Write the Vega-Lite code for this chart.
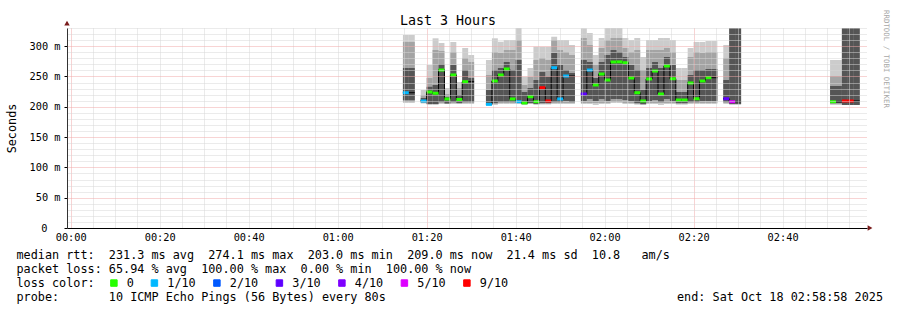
{
  "$schema": "https://vega.github.io/schema/vega-lite/v6.json",
  "width": 800,
  "height": 200,
  "autosize": {"type": "none"},
  "padding": {"left": 67, "top": 28, "right": 30, "bottom": 82},
  "background": "white",
  "config": {"view": {"stroke": null}, "font": "DejaVu Sans Mono"},
  "title": {"text": "Last 3 Hours", "font": "DejaVu Sans Mono", "fontSize": 13.3, "fontWeight": "normal", "color": "black", "anchor": "middle", "frame": "group", "dx": -19, "offset": -17},
  "data": {"name": "cols"},
  "datasets": {
    "cols": [
      {"t": 74.67, "t2": 76.0, "hi": 318.5, "mhi": 307, "dhi": 264, "dlo": 211, "mlo": 207.9, "lo": 206.3, "med": 223.2, "loss": "1/10", "g": "a"},
      {"t": 76.0, "t2": 77.33, "hi": 318.5, "mhi": 307, "dhi": 264, "dlo": 211, "mlo": 207.9, "lo": 206.3, "med": 223.2, "loss": "none", "g": "a"},
      {"t": 78.67, "t2": 80.0, "hi": 227.7, "mhi": 219.5, "dhi": 214.5, "dlo": 207.9, "mlo": 206.3, "lo": 205.4, "med": 209.6, "loss": "1/10", "g": "b"},
      {"t": 80.0, "t2": 81.33, "hi": 269, "mhi": 247.5, "dhi": 233, "dlo": 204.6, "mlo": 204.6, "lo": 203, "med": 224.4, "loss": "0", "g": "b"},
      {"t": 81.33, "t2": 82.67, "hi": 313, "mhi": 293.7, "dhi": 236, "dlo": 204.6, "mlo": 204.6, "lo": 203, "med": 222.3, "loss": "0", "g": "b"},
      {"t": 82.67, "t2": 84.0, "hi": 305.3, "mhi": 292, "dhi": 270, "dlo": 207.9, "mlo": 206.3, "lo": 204.6, "med": 260.7, "loss": "0", "g": "b"},
      {"t": 84.0, "t2": 85.33, "hi": 231, "mhi": 221, "dhi": 216, "dlo": 205.4, "mlo": 205.4, "lo": 204.6, "med": 212.9, "loss": "0", "g": "b"},
      {"t": 85.33, "t2": 86.67, "hi": 306.9, "mhi": 290.4, "dhi": 269, "dlo": 207.9, "mlo": 206.3, "lo": 204.6, "med": 252.5, "loss": "0", "g": "b"},
      {"t": 86.67, "t2": 88.0, "hi": 240.9, "mhi": 231, "dhi": 219.5, "dlo": 206.3, "mlo": 205.4, "lo": 204.6, "med": 212, "loss": "0", "g": "b"},
      {"t": 88.0, "t2": 89.33, "hi": 297, "mhi": 280.5, "dhi": 260.7, "dlo": 207.9, "mlo": 206.3, "lo": 204.6, "med": 241.4, "loss": "0", "g": "b"},
      {"t": 89.33, "t2": 90.67, "hi": 285.5, "mhi": 273.9, "dhi": 247.5, "dlo": 207.9, "mlo": 206.3, "lo": 204.6, "med": 241.4, "loss": "none", "g": "b"},
      {"t": 93.33, "t2": 94.67, "hi": 277.2, "mhi": 252.5, "dhi": 227.7, "dlo": 204.6, "mlo": 204.6, "lo": 203, "med": 204, "loss": "1/10", "g": "c"},
      {"t": 94.67, "t2": 96.0, "hi": 313, "mhi": 290.4, "dhi": 260.7, "dlo": 206.3, "mlo": 204.6, "lo": 203, "med": 242.6, "loss": "0", "g": "c"},
      {"t": 96.0, "t2": 97.33, "hi": 307.4, "mhi": 288.8, "dhi": 264, "dlo": 207.9, "mlo": 206.3, "lo": 204.6, "med": 252.5, "loss": "0", "g": "c"},
      {"t": 97.33, "t2": 98.67, "hi": 310.2, "mhi": 293.7, "dhi": 273.9, "dlo": 207.9, "mlo": 206.3, "lo": 204.6, "med": 262.4, "loss": "0", "g": "c"},
      {"t": 98.67, "t2": 100.0, "hi": 310.2, "mhi": 293.7, "dhi": 260.7, "dlo": 207.9, "mlo": 206.3, "lo": 204.6, "med": 212.9, "loss": "0", "g": "c"},
      {"t": 100.0, "t2": 101.33, "hi": 330, "mhi": 310.2, "dhi": 277.2, "dlo": 209.6, "mlo": 206.3, "lo": 204.6, "med": 208.4, "loss": "1/10", "g": "c"},
      {"t": 101.33, "t2": 102.67, "hi": 249.6, "mhi": 236, "dhi": 224.4, "dlo": 204.6, "mlo": 204.6, "lo": 203, "med": 206.3, "loss": "0", "g": "c"},
      {"t": 102.67, "t2": 104.0, "hi": 264, "mhi": 249.2, "dhi": 231, "dlo": 206.3, "mlo": 205.4, "lo": 204.6, "med": 216.6, "loss": "0", "g": "c"},
      {"t": 104.0, "t2": 105.33, "hi": 299.1, "mhi": 277.2, "dhi": 244.2, "dlo": 204.6, "mlo": 204.6, "lo": 203, "med": 208.4, "loss": "0", "g": "c"},
      {"t": 105.33, "t2": 106.67, "hi": 299.1, "mhi": 280.5, "dhi": 257.4, "dlo": 206.3, "mlo": 204.6, "lo": 203.8, "med": 231.5, "loss": "9/10", "g": "c"},
      {"t": 106.67, "t2": 108.0, "hi": 299.1, "mhi": 277.2, "dhi": 249.6, "dlo": 206.3, "mlo": 204.6, "lo": 203.8, "med": 209.6, "loss": "9/10", "g": "c"},
      {"t": 108.0, "t2": 109.33, "hi": 315.6, "mhi": 310.2, "dhi": 288.8, "dlo": 207.9, "mlo": 206.3, "lo": 204.6, "med": 264.5, "loss": "1/10", "g": "c"},
      {"t": 109.33, "t2": 110.67, "hi": 310.2, "mhi": 293.7, "dhi": 269, "dlo": 207.9, "mlo": 206.3, "lo": 204.6, "med": 212.9, "loss": "1/10", "g": "c"},
      {"t": 110.67, "t2": 112.0, "hi": 310.2, "mhi": 290.4, "dhi": 260.7, "dlo": 209.6, "mlo": 206.3, "lo": 204.6, "med": 250.8, "loss": "1/10", "g": "c"},
      {"t": 112.0, "t2": 113.33, "hi": 302, "mhi": 285.5, "dhi": 255.8, "dlo": 207.9, "mlo": 206.3, "lo": 204.6, "med": 250.8, "loss": "none", "g": "c"},
      {"t": 114.67, "t2": 116.0, "hi": 329.5, "mhi": 313.5, "dhi": 277.2, "dlo": 209.6, "mlo": 206.3, "lo": 204.6, "med": 221.1, "loss": "3/10", "g": "d"},
      {"t": 116.0, "t2": 117.33, "hi": 321.8, "mhi": 302, "dhi": 273.9, "dlo": 212.9, "mlo": 206.3, "lo": 204.6, "med": 260.7, "loss": "1/10", "g": "d"},
      {"t": 117.33, "t2": 118.67, "hi": 285.5, "mhi": 269, "dhi": 247.5, "dlo": 209.6, "mlo": 206.3, "lo": 203, "med": 236, "loss": "0", "g": "d"},
      {"t": 118.67, "t2": 120.0, "hi": 313.5, "mhi": 297, "dhi": 273.9, "dlo": 212.9, "mlo": 206.3, "lo": 204.6, "med": 254.1, "loss": "0", "g": "d"},
      {"t": 120.0, "t2": 121.33, "hi": 330, "mhi": 310.2, "dhi": 285.5, "dlo": 209.6, "mlo": 206.3, "lo": 204.6, "med": 244.2, "loss": "0", "g": "d"},
      {"t": 121.33, "t2": 122.67, "hi": 330, "mhi": 313.5, "dhi": 293.7, "dlo": 212.9, "mlo": 207.9, "lo": 206.3, "med": 273.9, "loss": "0", "g": "d"},
      {"t": 122.67, "t2": 124.0, "hi": 330, "mhi": 313.5, "dhi": 290.4, "dlo": 212.9, "mlo": 207.9, "lo": 206.3, "med": 274.1, "loss": "0", "g": "d"},
      {"t": 124.0, "t2": 125.33, "hi": 313.5, "mhi": 297, "dhi": 282.2, "dlo": 211.2, "mlo": 206.3, "lo": 204.6, "med": 272.7, "loss": "0", "g": "d"},
      {"t": 125.33, "t2": 126.67, "hi": 310.2, "mhi": 290.4, "dhi": 269, "dlo": 209.6, "mlo": 206.3, "lo": 204.6, "med": 247.5, "loss": "0", "g": "d"},
      {"t": 126.67, "t2": 128.0, "hi": 313.5, "mhi": 293.7, "dhi": 260.7, "dlo": 206.3, "mlo": 204.6, "lo": 203.5, "med": 223.2, "loss": "0", "g": "d"},
      {"t": 128.0, "t2": 129.33, "hi": 282.2, "mhi": 260.7, "dhi": 227.7, "dlo": 204.6, "mlo": 203.5, "lo": 203, "med": 209.6, "loss": "0", "g": "d"},
      {"t": 129.33, "t2": 130.67, "hi": 310.2, "mhi": 293.7, "dhi": 264, "dlo": 209.6, "mlo": 206.3, "lo": 204.6, "med": 245.9, "loss": "0", "g": "d"},
      {"t": 130.67, "t2": 132.0, "hi": 310.2, "mhi": 293.7, "dhi": 273.9, "dlo": 211.2, "mlo": 206.3, "lo": 204.6, "med": 259, "loss": "0", "g": "d"},
      {"t": 132.0, "t2": 133.33, "hi": 313.5, "mhi": 293.7, "dhi": 264, "dlo": 207.9, "mlo": 206.3, "lo": 203, "med": 221.1, "loss": "0", "g": "d"},
      {"t": 133.33, "t2": 134.67, "hi": 313.5, "mhi": 297, "dhi": 282.2, "dlo": 212.9, "mlo": 206.3, "lo": 204.6, "med": 267.3, "loss": "0", "g": "d"},
      {"t": 134.67, "t2": 136.0, "hi": 310.2, "mhi": 290.4, "dhi": 269, "dlo": 209.6, "mlo": 206.3, "lo": 204.6, "med": 246.3, "loss": "0", "g": "d"},
      {"t": 136.0, "t2": 137.33, "hi": 264, "mhi": 244.2, "dhi": 224.4, "dlo": 206.3, "mlo": 204.6, "lo": 203.5, "med": 211.2, "loss": "0", "g": "d"},
      {"t": 137.33, "t2": 138.67, "hi": 264, "mhi": 244.2, "dhi": 224.4, "dlo": 206.3, "mlo": 204.6, "lo": 203.5, "med": 211.2, "loss": "0", "g": "d"},
      {"t": 138.67, "t2": 140.0, "hi": 297, "mhi": 282.2, "dhi": 252.5, "dlo": 207.9, "mlo": 206.3, "lo": 204.6, "med": 239.3, "loss": "0", "g": "d"},
      {"t": 140.0, "t2": 141.33, "hi": 307, "mhi": 290.4, "dhi": 260.7, "dlo": 207.9, "mlo": 206.3, "lo": 204.6, "med": 213.3, "loss": "0", "g": "d"},
      {"t": 141.33, "t2": 142.67, "hi": 307, "mhi": 288.8, "dhi": 260.7, "dlo": 209.6, "mlo": 206.3, "lo": 204.6, "med": 242.6, "loss": "0", "g": "d"},
      {"t": 142.67, "t2": 144.0, "hi": 308.5, "mhi": 290.4, "dhi": 262.4, "dlo": 209.6, "mlo": 206.3, "lo": 204.6, "med": 248, "loss": "0", "g": "d"},
      {"t": 144.0, "t2": 145.33, "hi": 308.5, "mhi": 290.4, "dhi": 262.4, "dlo": 209.6, "mlo": 206.3, "lo": 204.6, "med": 248, "loss": "none", "g": "d"},
      {"t": 146.67, "t2": 148.0, "hi": 302, "mhi": 280.5, "dhi": 244.2, "dlo": 207.9, "mlo": 206.3, "lo": 204.6, "med": 213.3, "loss": "3/10", "g": "e"},
      {"t": 148.0, "t2": 149.33, "hi": 330, "mhi": 330, "dhi": 330, "dlo": 204.6, "mlo": 204.6, "lo": 203, "med": 208.4, "loss": "5/10", "g": "e"},
      {"t": 149.33, "t2": 150.67, "hi": 330, "mhi": 330, "dhi": 330, "dlo": 204.6, "mlo": 204.6, "lo": 203, "med": 208.4, "loss": "none", "g": "e"},
      {"t": 170.67, "t2": 172.0, "hi": 277.2, "mhi": 250.8, "dhi": 234.3, "dlo": 206.3, "mlo": 204.6, "lo": 203, "med": 208.4, "loss": "0", "g": "f"},
      {"t": 172.0, "t2": 173.33, "hi": 277.2, "mhi": 250.8, "dhi": 234.3, "dlo": 206.3, "mlo": 204.6, "lo": 203, "med": 208.4, "loss": "none", "g": "f"},
      {"t": 173.33, "t2": 174.67, "hi": 330, "mhi": 330, "dhi": 330, "dlo": 203, "mlo": 203, "lo": 203, "med": 209.6, "loss": "9/10", "g": "f"},
      {"t": 174.67, "t2": 176.0, "hi": 330, "mhi": 330, "dhi": 330, "dlo": 203, "mlo": 203, "lo": 203, "med": 209.6, "loss": "9/10", "g": "f"},
      {"t": 176.0, "t2": 177.33, "hi": 330, "mhi": 330, "dhi": 330, "dlo": 203, "mlo": 203, "lo": 203, "med": 209.6, "loss": "none", "g": "f"}
    ]
  },
  "layer": [
    {
      "mark": {"type": "rect", "color": "#cccccc"},
      "encoding": {
        "x": {"field": "t", "type": "quantitative",
          "scale": {"domain": [-0.83, 178.97], "nice": false, "zero": false},
          "axis": {
            "tickCount": 36,
            "labelExpr": "datum.value % 20 == 0 ? ('0' + floor(datum.value/60) + ':' + (datum.value % 60 < 10 ? '0' : '') + (datum.value % 60)) : ''",
            "labelFont": "DejaVu Sans Mono", "labelFontSize": 10.3, "labelColor": "black", "labelPadding": 4, "labelOverlap": false,
            "ticks": false, "tickSize": 0,
            "domainColor": "black", "domainWidth": 1,
            "grid": true,
            "gridColor": {"condition": {"test": "datum.value == 0 || datum.value == 80 || datum.value == 140", "value": "#f0a8a8"}, "value": "#d6d6d6"},
            "gridDash": [1, 1], "gridWidth": 1,
            "title": [
              "median rtt:\u00a0\u00a0231.3 ms avg\u00a0\u00a0274.1 ms max\u00a0\u00a0203.0 ms min\u00a0\u00a0209.0 ms now\u00a0\u00a021.4 ms sd\u00a0\u00a010.8\u00a0\u00a0\u00a0am/s",
              "packet loss: 65.94 % avg\u00a0\u00a0100.00 % max\u00a0\u00a00.00 % min\u00a0\u00a0100.00 % now",
              "loss color:",
              "probe:\u00a0\u00a0\u00a0\u00a0\u00a0\u00a0\u00a010 ICMP Echo Pings (56 Bytes) every 80s\u00a0\u00a0\u00a0\u00a0\u00a0\u00a0\u00a0\u00a0\u00a0\u00a0\u00a0\u00a0\u00a0\u00a0\u00a0\u00a0\u00a0\u00a0\u00a0\u00a0\u00a0\u00a0\u00a0\u00a0\u00a0\u00a0\u00a0\u00a0\u00a0\u00a0\u00a0\u00a0\u00a0\u00a0\u00a0\u00a0\u00a0\u00a0\u00a0\u00a0\u00a0end: Sat Oct 18 02:58:58 2025"
            ],
            "titleFont": "DejaVu Sans Mono", "titleFontSize": 11.8, "titleFontWeight": "normal", "titleColor": "black",
            "titleAnchor": "start", "titleAlign": "left", "titleX": -51, "titleY": 30.3, "titleBaseline": "alphabetic", "titleLineHeight": 14.2, "titleLimit": 2000,
            "zindex": 1
          }
        },
        "x2": {"field": "t2"},
        "y": {"field": "lo", "type": "quantitative",
          "scale": {"domain": [0, 330], "nice": false, "zero": false},
          "axis": {
            "tickCount": 33,
            "labelExpr": "datum.value % 50 == 0 ? (datum.value == 0 ? '0' : datum.value + '\u00a0m') : ''",
            "labelFont": "DejaVu Sans Mono", "labelFontSize": 10.3, "labelColor": "black", "labelOverlap": false,
            "labelPadding": {"condition": {"test": "datum.value == 0", "value": 17}, "value": 4},
            "tickSize": 3, "tickColor": "black",
            "tickOpacity": {"condition": {"test": "datum.value % 50 == 0", "value": 1}, "value": 0},
            "domainColor": "#333333", "domainWidth": 1,
            "grid": true,
            "gridColor": {"condition": {"test": "datum.value % 50 == 0", "value": "#f0a8a8"}, "value": "#d6d6d6"},
            "gridDash": [1, 1], "gridWidth": 1,
            "title": "Seconds", "titleFont": "DejaVu Sans Mono", "titleFontSize": 11.8, "titleFontWeight": "normal", "titleColor": "black",
            "titleX": -56, "titleY": 100, "titleAngle": -90, "titleAlign": "center", "titleBaseline": "middle",
            "zindex": 1
          }
        },
        "y2": {"field": "hi"}
      }
    },
    {
      "mark": {"type": "rect", "color": "#a4a4a4"},
      "encoding": {
        "x": {"field": "t", "type": "quantitative"},
        "x2": {"field": "t2"},
        "y": {"field": "mlo", "type": "quantitative"},
        "y2": {"field": "mhi"}
      }
    },
    {
      "mark": {"type": "rect", "color": "#555555"},
      "encoding": {
        "x": {"field": "t", "type": "quantitative"},
        "x2": {"field": "t2"},
        "y": {"field": "dlo", "type": "quantitative"},
        "y2": {"field": "dhi"}
      }
    },
    {
      "mark": {"type": "line", "interpolate": "step-after", "color": "black", "strokeWidth": 1},
      "encoding": {
        "x": {"field": "t", "type": "quantitative"},
        "y": {"field": "med", "type": "quantitative"},
        "detail": {"field": "g", "type": "nominal"}
      }
    },
    {
      "mark": {"type": "rule", "color": "black", "strokeWidth": 1},
      "encoding": {
        "x": {"field": "t", "type": "quantitative"},
        "x2": {"field": "t2"},
        "y": {"field": "med", "type": "quantitative"}
      }
    },
    {
      "transform": [{"filter": "datum.loss !== 'none'"}],
      "mark": {"type": "rule", "strokeWidth": 3, "strokeCap": "butt"},
      "encoding": {
        "x": {"field": "t", "type": "quantitative"},
        "x2": {"field": "t2"},
        "y": {"field": "med", "type": "quantitative"},
        "color": {"field": "loss", "type": "nominal",
          "scale": {"domain": ["0","1/10","2/10","3/10","4/10","5/10","9/10"], "range": ["#26ff00","#00b8ff","#0059ff","#5e00ff","#7e00ff","#dd00ff","#ff0000"]},
          "legend": {
            "orient": "none", "legendX": 41, "legendY": 249, "direction": "horizontal", "title": null,
            "values": ["0","1/10","2/10","3/10","4/10","5/10","9/10"],
            "symbolType": "square", "symbolSize": 42, "symbolStrokeWidth": 1, "symbolStrokeColor": "black",
            "labelFont": "DejaVu Sans Mono", "labelFontSize": 11.8, "labelColor": "black", "labelOffset": 7,
            "columnPadding": 14.5, "padding": 0,
            "encode": {"symbols": {"update": {"fill": {"scale": "color", "field": "value"}, "stroke": {"value": "black"}, "strokeWidth": {"value": 1}, "opacity": {"value": 1}}}}
          }
        }
      }
    },
    {
      "data": {"values": [{}]},
      "mark": {"type": "point", "shape": "triangle-up", "filled": true, "color": "#7a1c1c", "size": 30, "opacity": 1},
      "encoding": {
        "x": {"datum": -0.83, "type": "quantitative"},
        "y": {"datum": 338, "type": "quantitative"}
      }
    },
    {
      "data": {"values": [{}]},
      "mark": {"type": "point", "shape": "triangle-right", "filled": true, "color": "#7a1c1c", "size": 30, "opacity": 1},
      "encoding": {
        "x": {"datum": 179.65, "type": "quantitative"},
        "y": {"datum": 0, "type": "quantitative"}
      }
    },
    {
      "data": {"values": [{}]},
      "mark": {"type": "text", "text": "RRDTOOL / TOBI OETIKER", "angle": 90, "font": "DejaVu Sans Mono", "fontSize": 7.4, "color": "#a8a8a8", "align": "center", "baseline": "middle"},
      "encoding": {
        "x": {"datum": 183.24, "type": "quantitative"},
        "y": {"datum": 278.9, "type": "quantitative"}
      }
    }
  ]
}
